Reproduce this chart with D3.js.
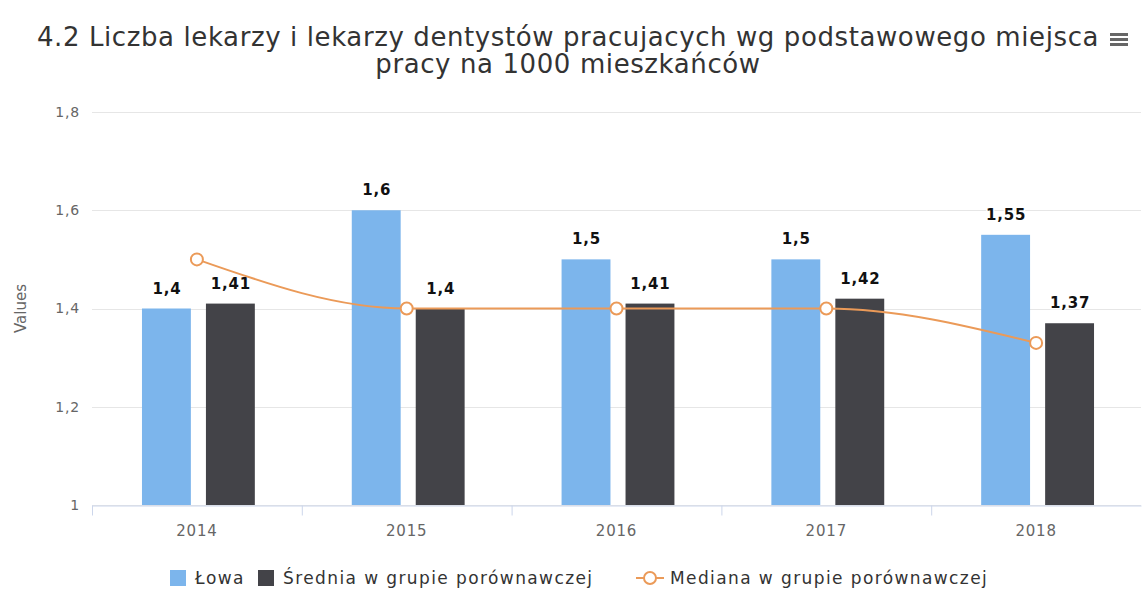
<!DOCTYPE html>
<html>
<head>
<meta charset="utf-8">
<script src="https://cdn.jsdelivr.net/npm/d3@7"></script>
<style>
  body { margin: 0; background: #fff; }
  svg { font-family: "DejaVu Sans", sans-serif; display: block; }
</style>
</head>
<body>
<svg id="chart"></svg>
<script>
// dane wykresu
const years = ["2014", "2015", "2016", "2017", "2018"];
const lowa = [1.4, 1.6, 1.5, 1.5, 1.55];
const srednia = [1.41, 1.4, 1.41, 1.42, 1.37];
const mediana = [1.5, 1.4, 1.4, 1.4, 1.33];
const yTicks = [1, 1.2, 1.4, 1.6, 1.8];
const seriesNames = ["Łowa", "Średnia w grupie porównawczej", "Mediana w grupie porównawczej"];
const titleLines = [
  "4.2 Liczba lekarzy i lekarzy dentystów pracujacych wg podstawowego miejsca",
  "pracy na 1000 mieszkańców"
];

const width = 1142;
const height = 592;
const MARGINS = { top: 112, right: 1, bottom: 87, left: 92 };
const COLORS = { lowa: "#7cb5ec", srednia: "#434348", mediana: "#eb9a58" };

const fmt = (v) => String(v).replace(".", ",");

const svg = d3.select("#chart").attr("width", width).attr("height", height);

// tytuł
svg.append("text")
  .attr("x", 568)
  .attr("y", 46)
  .attr("text-anchor", "middle")
  .attr("fill", "#333")
  .attr("font-size", 26)
  .attr("letter-spacing", 0.6)
  .selectAll("tspan")
  .data(titleLines)
  .join("tspan")
  .attr("x", 568)
  .attr("dy", (d, i) => (i === 0 ? 0 : 27))
  .text((d) => d);

// ikona menu
const menu = svg.append("g").attr("transform", "translate(1110, 33)");
[0, 5, 10].forEach((dy) => {
  menu.append("rect")
    .attr("y", dy)
    .attr("width", 18)
    .attr("height", 3)
    .attr("fill", "#666");
});

const x = d3
  .scaleBand()
  .domain(years)
  .range([MARGINS.left, width - MARGINS.right]);

const xInner = d3
  .scaleBand()
  .domain(["lowa", "srednia"])
  .range([0, x.bandwidth()])
  .paddingInner(0.22)
  .paddingOuter(0.75);

const y = d3
  .scaleLinear()
  .domain([1, 1.8])
  .range([height - MARGINS.bottom, MARGINS.top]);

// siatka
svg.append("g")
  .selectAll("line")
  .data(yTicks)
  .join("line")
  .attr("x1", MARGINS.left)
  .attr("x2", width - MARGINS.right)
  .attr("y1", (d) => Math.round(y(d)) + 0.5)
  .attr("y2", (d) => Math.round(y(d)) + 0.5)
  .attr("stroke", "#e6e6e6");

// oś Y
const yAxis = svg.append("g")
  .attr("transform", `translate(${MARGINS.left - 12}, 0)`)
  .call(d3.axisLeft(y).tickValues(yTicks).tickSize(0).tickPadding(0).tickFormat(fmt));
yAxis.select(".domain").remove();
yAxis.selectAll("text")
  .attr("fill", "#666")
  .attr("font-size", 14)
  .attr("letter-spacing", 0.8)
  .attr("font-family", "DejaVu Sans");

svg.append("text")
  .attr("transform", `translate(26, ${y(1.4)}) rotate(-90)`)
  .attr("text-anchor", "middle")
  .attr("fill", "#666")
  .attr("font-size", 15)
  .text("Values");

// słupki
const groups = svg.append("g")
  .selectAll("g")
  .data(years)
  .join("g")
  .attr("transform", (d) => `translate(${x(d)}, 0)`);

const barData = (i) => [
  { key: "lowa", value: lowa[i] },
  { key: "srednia", value: srednia[i] },
];

groups.selectAll("rect")
  .data((d, i) => barData(i))
  .join("rect")
  .attr("x", (d) => xInner(d.key) + 2)
  .attr("y", (d) => y(d.value))
  .attr("width", xInner.bandwidth() - 1)
  .attr("height", (d) => y(1) - y(d.value))
  .attr("fill", (d) => COLORS[d.key]);

// oś X
const xAxis = svg.append("g")
  .attr("transform", `translate(0, ${y(1) + 0.5})`)
  .call(d3.axisBottom(x).tickSize(0).tickPadding(20));
xAxis.select(".domain").attr("stroke", "#ccd6eb");
xAxis.selectAll("text")
  .attr("fill", "#666")
  .attr("font-size", 15)
  .attr("letter-spacing", 0.8)
  .attr("font-family", "DejaVu Sans");
xAxis.append("g")
  .selectAll("line")
  .data(years)
  .join("line")
  .attr("x1", (d) => x(d) + 0.5)
  .attr("x2", (d) => x(d) + 0.5)
  .attr("y1", 0)
  .attr("y2", 10)
  .attr("stroke", "#ccd6eb");

// linia mediany
const line = d3
  .line()
  .x((d, i) => x(years[i]) + x.bandwidth() / 2)
  .y((d) => y(d))
  .curve(d3.curveMonotoneX);

svg.append("path")
  .datum(mediana)
  .attr("d", line)
  .attr("fill", "none")
  .attr("stroke", COLORS.mediana)
  .attr("stroke-width", 2);

svg.append("g")
  .selectAll("circle")
  .data(mediana)
  .join("circle")
  .attr("cx", (d, i) => x(years[i]) + x.bandwidth() / 2)
  .attr("cy", (d) => y(d))
  .attr("r", 6)
  .attr("fill", "#fff")
  .attr("stroke", COLORS.mediana)
  .attr("stroke-width", 2);

// etykiety słupków
groups.selectAll("text.label")
  .data((d, i) => barData(i))
  .join("text")
  .attr("class", "label")
  .attr("x", (d) => xInner(d.key) + xInner.bandwidth() / 2 + 2)
  .attr("y", (d) => y(d.value) - 15)
  .attr("text-anchor", "middle")
  .attr("fill", "#111")
  .attr("font-size", 15)
  .attr("font-weight", "bold")
  .attr("letter-spacing", 0.8)
  .attr("stroke", "#fff")
  .attr("stroke-width", 3)
  .attr("paint-order", "stroke")
  .text((d) => fmt(d.value));

// legenda
const legend = svg.append("g")
  .attr("transform", "translate(0, 578)")
  .attr("font-size", 17)
  .attr("letter-spacing", 1.4)
  .attr("fill", "#333");
legend.append("rect")
  .attr("x", 170).attr("y", -8).attr("width", 16).attr("height", 16)
  .attr("fill", COLORS.lowa);
legend.append("text")
  .attr("x", 195).attr("y", 6)
  .text(seriesNames[0]);
legend.append("rect")
  .attr("x", 258).attr("y", -8).attr("width", 16).attr("height", 16)
  .attr("fill", COLORS.srednia);
legend.append("text")
  .attr("x", 283).attr("y", 6)
  .text(seriesNames[1]);
legend.append("line")
  .attr("x1", 636).attr("x2", 664).attr("y1", 0).attr("y2", 0)
  .attr("stroke", COLORS.mediana).attr("stroke-width", 2);
legend.append("circle")
  .attr("cx", 650).attr("cy", 0).attr("r", 6)
  .attr("fill", "#fff").attr("stroke", COLORS.mediana).attr("stroke-width", 2);
legend.append("text")
  .attr("x", 670).attr("y", 6)
  .text(seriesNames[2]);
</script>
</body>
</html>
